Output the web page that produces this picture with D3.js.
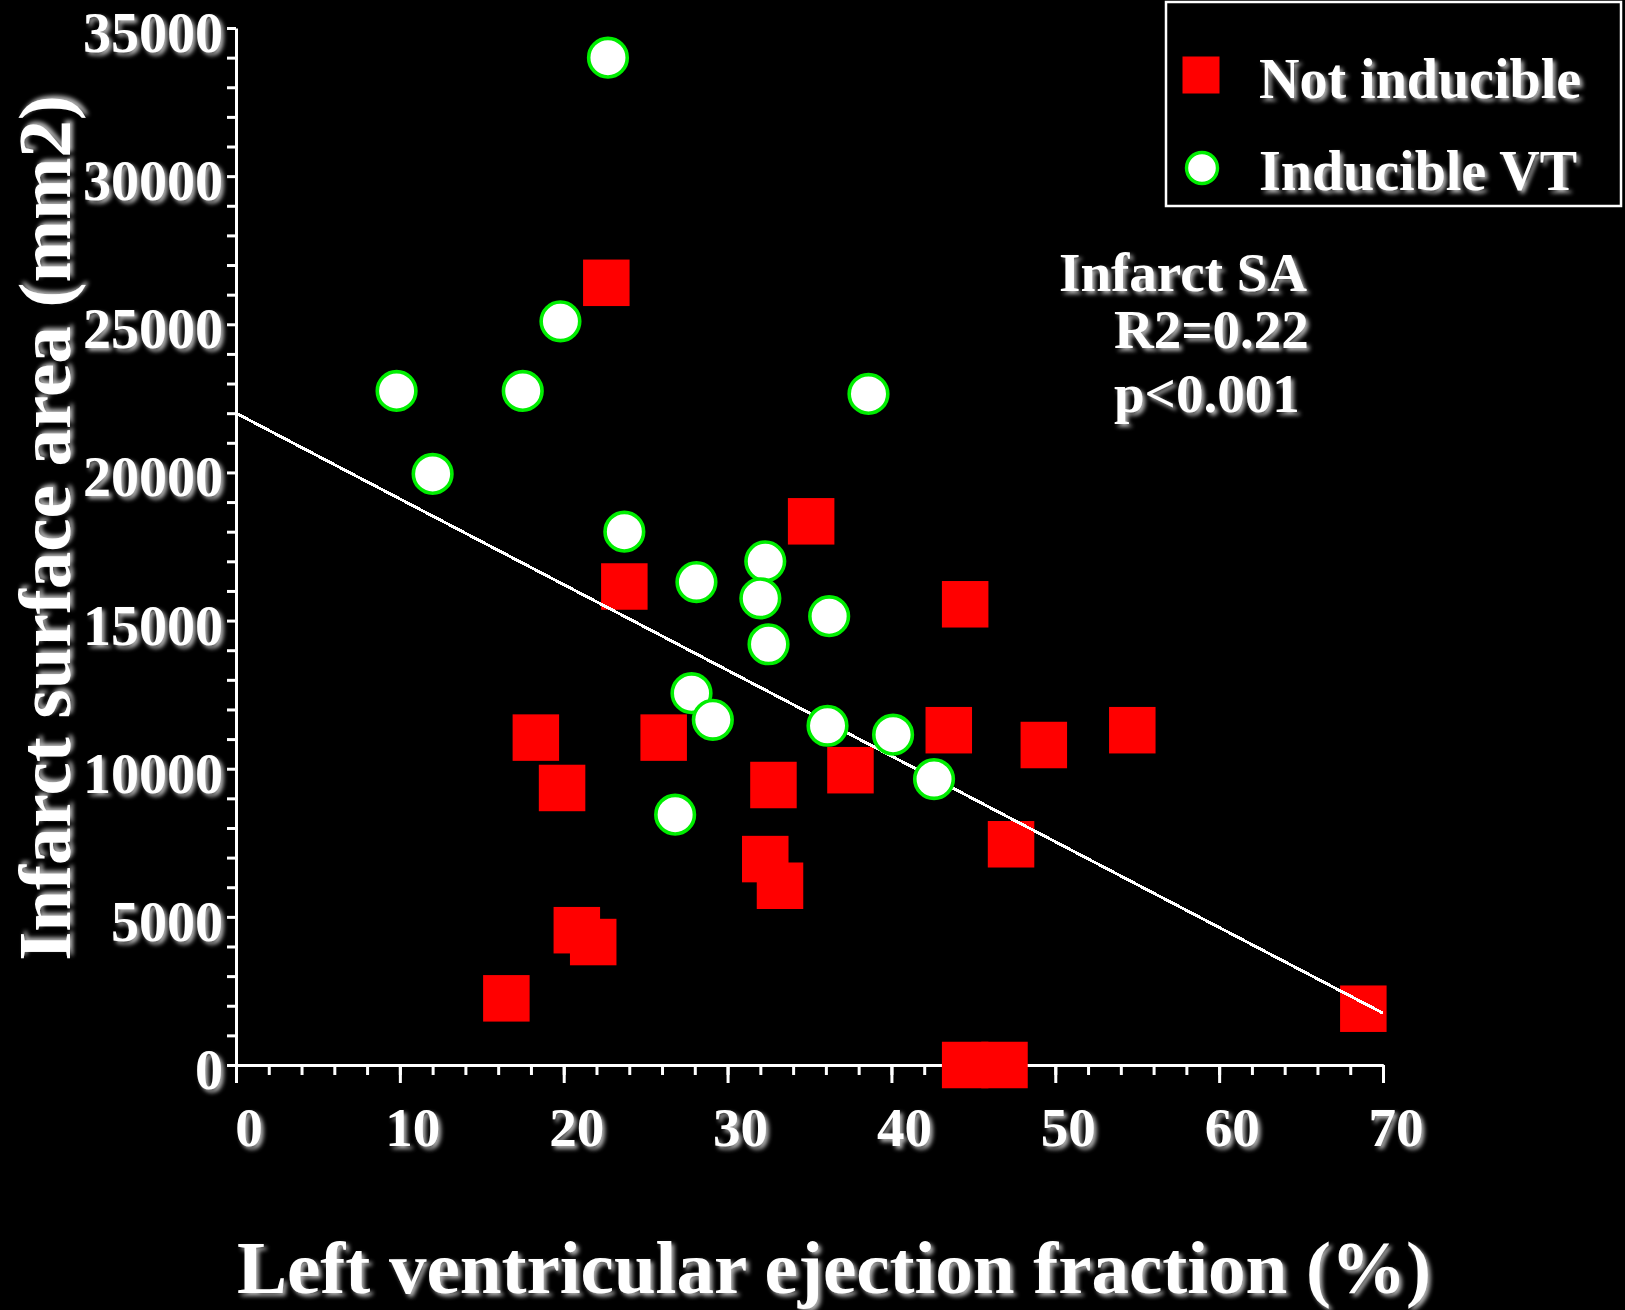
<!DOCTYPE html>
<html>
<head>
<meta charset="utf-8">
<script src="https://cdn.jsdelivr.net/npm/d3@7"></script>
<style>
  html, body { margin: 0; padding: 0; background: #000; }
  svg { display: block; }
  text { font-family: "Liberation Serif", "Times New Roman", serif; font-weight: bold; fill: #fff; }
</style>
</head>
<body>
<script>
// ---- Data ----
const notInducibleX = [22.6, 35.1, 23.7, 44.5, 18.3, 26.1, 43.5, 54.7, 49.3, 19.9, 32.8, 37.5, 47.3, 32.3, 33.2, 20.8, 21.8, 16.5, 68.8, 44.5, 46.9];
const notInducibleY = [26400, 18350, 16150, 15550, 11050, 11050, 11300, 11300, 10800, 9350, 9450, 9950, 7450, 6950, 6050, 4550, 4150, 2250, 1900, 0, 0];
const inducibleX = [22.7, 19.8, 9.8, 17.5, 38.6, 12.0, 23.7, 28.1, 32.3, 32.0, 36.2, 32.5, 27.8, 29.1, 36.1, 40.1, 42.6, 26.8];
const inducibleY = [34000, 25100, 22750, 22750, 22650, 19950, 18000, 16300, 17000, 15750, 15150, 14200, 12550, 11650, 11450, 11150, 9650, 8450];
const regressionX = [0, 70];
const regressionY = [22000, 1750];
const xTickValues = [0, 10, 20, 30, 40, 50, 60, 70];
const yTickValues = [0, 5000, 10000, 15000, 20000, 25000, 30000, 35000];
const legendLabels = ["Not inducible", "Inducible VT"];
const annotationLines = ["Infarct SA", "R2=0.22", "p<0.001"];
const xTitle = "Left ventricular ejection fraction (%)";
const yTitle = "Infarct surface area (mm2)";

// ---- Layout ----
const W = 1625, H = 1310;
const svg = d3.select("body").append("svg").attr("width", W).attr("height", H);
svg.append("rect").attr("width", W).attr("height", H).attr("fill", "#000");

const defs = svg.append("defs");
const f = defs.append("filter").attr("id", "shadow").attr("x", "-10%").attr("y", "-10%").attr("width", "130%").attr("height", "140%");
f.append("feDropShadow").attr("dx", 3).attr("dy", 3).attr("stdDeviation", 2.2).attr("flood-color", "#b0b0b0").attr("flood-opacity", 1);

const x = d3.scaleLinear().domain([0, 70]).range([236, 1383]);
const y = d3.scaleLinear().domain([0, 35000]).range([1065, 28]);

// Axes
const axisColor = "#fff";
function styleAxis(g) {
  g.select(".domain").attr("stroke", axisColor).attr("stroke-width", 3);
  g.selectAll(".tick line").attr("stroke", axisColor).attr("stroke-width", 3);
  g.selectAll("text").remove();
}
// x minor
svg.append("g").attr("transform", `translate(0,${y(0)})`)
  .call(d3.axisBottom(x).tickValues(d3.range(0, 71, 2)).tickSize(10).tickSizeOuter(0))
  .call(styleAxis);
// x major
svg.append("g").attr("transform", `translate(0,${y(0)})`)
  .call(d3.axisBottom(x).tickValues(xTickValues).tickSize(18).tickSizeOuter(0))
  .call(styleAxis);
// y ticks every 1000
svg.append("g").attr("transform", `translate(${x(0)},0)`)
  .call(d3.axisLeft(y).tickValues(d3.range(0, 35001, 1000)).tickSize(9).tickSizeOuter(0))
  .call(styleAxis);

// Tick labels
svg.append("g").selectAll("text").data(xTickValues).join("text")
  .attr("x", d => x(d) + 13).attr("y", 1146)
  .attr("text-anchor", "middle").attr("font-size", 55)
  .attr("filter", "url(#shadow)")
  .text(d => d);
svg.append("g").selectAll("text").data(yTickValues).join("text")
  .attr("x", 223).attr("y", d => y(d) + 24)
  .attr("text-anchor", "end").attr("font-size", 56)
  .attr("filter", "url(#shadow)")
  .text(d => d);

// Axis titles
svg.append("text").attr("x", 834).attr("y", 1293).attr("text-anchor", "middle")
  .attr("font-size", 75).attr("filter", "url(#shadow)").text(xTitle);
svg.append("text").attr("transform", `translate(70,528) rotate(-90)`).attr("text-anchor", "middle")
  .attr("font-size", 75).attr("filter", "url(#shadow)").text(yTitle);

// Marks
const sq = 46.5;
const notData = notInducibleX.map((v, i) => ({x: v, y: notInducibleY[i]}));
const indData = inducibleX.map((v, i) => ({x: v, y: inducibleY[i]}));

svg.append("g").selectAll("rect").data(notData).join("rect")
  .attr("x", d => x(d.x) - sq / 2).attr("y", d => y(d.y) - sq / 2)
  .attr("width", sq).attr("height", sq).attr("fill", "#ff0000");

const regData = regressionX.map((v, i) => ({x: v, y: regressionY[i]}));
svg.append("path").datum(regData)
  .attr("d", d3.line().x(d => x(d.x)).y(d => y(d.y)))
  .attr("stroke", "#fff").attr("stroke-width", 3).attr("fill", "none")
  .attr("shape-rendering", "crispEdges");

svg.append("g").selectAll("circle").data(indData).join("circle")
  .attr("cx", d => x(d.x)).attr("cy", d => y(d.y)).attr("r", 19.3)
  .attr("fill", "#fff").attr("stroke", "#00ee00").attr("stroke-width", 3.6);

// Annotation
const annX = [1059, 1114, 1114];
const annY = [291, 348, 412];
svg.append("g").selectAll("text").data(annotationLines).join("text")
  .attr("x", (d, i) => annX[i]).attr("y", (d, i) => annY[i])
  .attr("font-size", 55).attr("filter", "url(#shadow)").text(d => d);

// Legend
const lg = svg.append("g");
lg.append("rect").attr("x", 1166).attr("y", 2).attr("width", 455).attr("height", 204)
  .attr("fill", "#000").attr("stroke", "#fff").attr("stroke-width", 2.5);
lg.append("rect").attr("x", 1182.5).attr("y", 56.5).attr("width", 37).attr("height", 37).attr("fill", "#ff0000");
lg.append("circle").attr("cx", 1202).attr("cy", 168).attr("r", 15.5)
  .attr("fill", "#fff").attr("stroke", "#00ee00").attr("stroke-width", 3.4);
lg.selectAll("text.lbl").data(legendLabels).join("text").attr("class", "lbl")
  .attr("x", 1259).attr("y", (d, i) => [98, 190][i])
  .attr("font-size", 56).attr("filter", "url(#shadow)").text(d => d);
</script>
</body>
</html>
